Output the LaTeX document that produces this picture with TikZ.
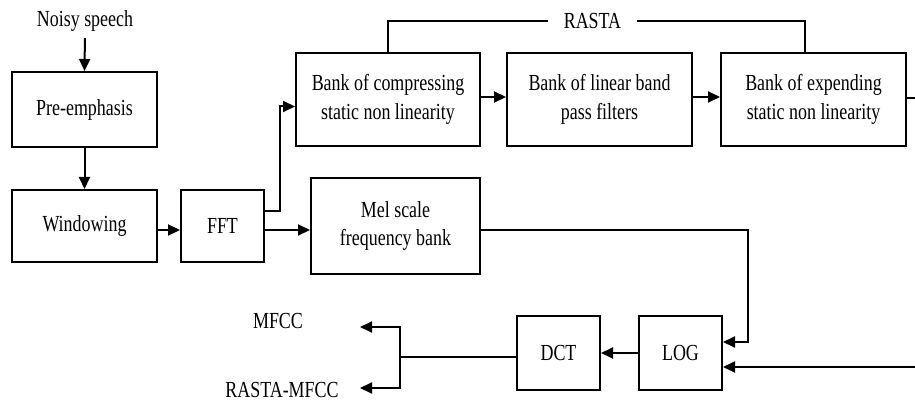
\documentclass[tikz,border=0pt]{standalone}
\usepackage{fontspec}
\setmainfont{Liberation Serif}[FakeStretch=0.78]
\usetikzlibrary{arrows.meta,calc}
\begin{document}
\begin{tikzpicture}[x=1pt,y=-1pt,
  box/.style={draw,line width=2pt,inner sep=0pt,align=center,font=\fontsize{23}{28.5}\selectfont},
  lbl/.style={inner sep=0pt,font=\fontsize{23}{28.5}\selectfont},
  ln/.style={line width=2pt},
  arr/.style={line width=2pt,-{Triangle[length=12pt,width=11pt]}}]
\useasboundingbox (0,0) rectangle (915,403);
% nodes
\node[lbl,anchor=base] (noisy) at (85,27) {Noisy speech};
\node[box,minimum width=145pt,minimum height=75pt] (pre) at (84.5,109.5) {Pre-emphasis};
\node[box,minimum width=145pt,minimum height=72pt] (win) at (84.5,226) {Windowing};
\node[box,minimum width=83pt,minimum height=72pt] (fft) at (222.5,226) {FFT};
\node[box,minimum width=184pt,minimum height=93pt] (comp) at (388,99.5) {Bank of compressing\\static non linearity};
\node[box,minimum width=185pt,minimum height=93pt] (lin) at (599.5,99.5) {Bank of linear band\\pass filters};
\node[box,minimum width=185pt,minimum height=93pt] (expd) at (813.5,99.5) {Bank of expending\\static non linearity};
\node[box,minimum width=169pt,minimum height=96pt] (mel) at (395.5,226) {Mel scale\\frequency bank};
\node[box,minimum width=83pt,minimum height=74pt] (log) at (680.5,353) {LOG};
\node[box,minimum width=83pt,minimum height=74pt] (dct) at (558.5,353) {DCT};
\node[lbl,inner xsep=16pt] (rasta) at (592.5,21) {RASTA};
\node[lbl,anchor=base] (mfcc) at (278,328) {MFCC};
\node[lbl,anchor=base] (rmfcc) at (282,397) {RASTA-MFCC};
% coordinates
\coordinate (eout) at (915,98);
\coordinate (m1) at (748,342);
\coordinate (r2) at (915,367);
\coordinate (split) at (400,357);
\coordinate (o1) at (360,327);
\coordinate (o2) at (360,388);
% connectors
\draw[arr,shorten <=6pt] (noisy.south) -- (pre.north);
\draw[arr] (pre.south) -- (win.north);
\draw[arr] ([yshift=-4pt]win.east) -- ([yshift=-4pt]fft.west);
\draw[arr] ([yshift=-4pt]fft.east) -- ([yshift=-4pt]mel.west);
\draw[arr] ([yshift=15pt]fft.east) -- ++(15,0) |- ([yshift=-7pt]comp.west);
\draw[arr] ([yshift=2.5pt]comp.east) -- ([yshift=2.5pt]lin.west);
\draw[arr] ([yshift=2.5pt]lin.east) -- ([yshift=2.5pt]expd.west);
\draw[ln] (expd.east |- eout) -- (eout);
\draw[ln] (comp.north) |- (rasta.west);
\draw[ln] (rasta.east) -| ([xshift=-8.5pt]expd.north);
\draw[arr] ([yshift=-4pt]mel.east) -| (m1) -- (m1 -| log.east);
\draw[arr] (r2) -- (r2 -| log.east);
\draw[arr] (log.west) -- (dct.east);
\draw[ln] ([yshift=-4pt]dct.west) -- (split);
\draw[arr] (split) |- (o1);
\draw[arr] (split) |- (o2);
\end{tikzpicture}
\end{document}
